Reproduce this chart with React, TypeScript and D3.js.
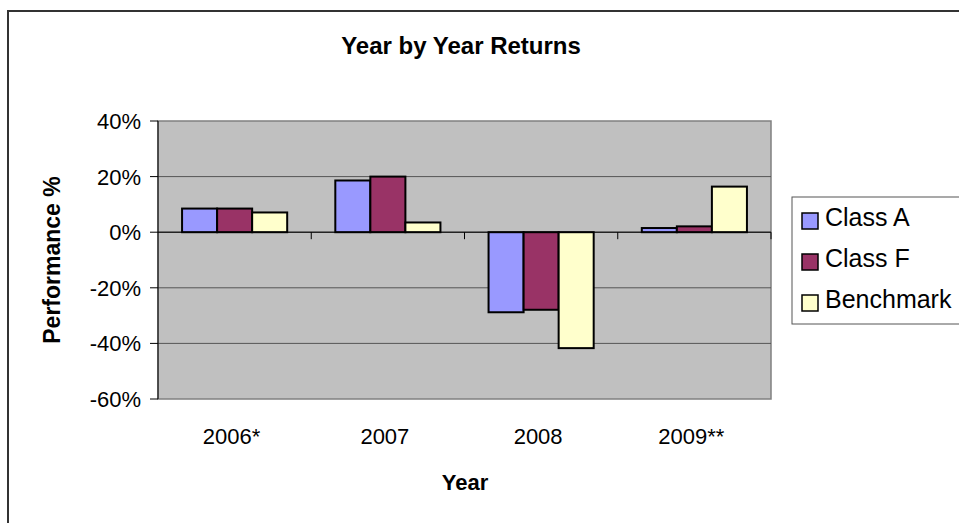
import React from "react";
import * as d3 from "d3";

const categories = ["2006*", "2007", "2008", "2009**"];
const seriesNames = ["Class A", "Class F", "Benchmark"];
const classA = [8.5, 18.6, -28.8, 1.5];
const classF = [8.5, 20.0, -27.9, 2.1];
const benchmark = [7.1, 3.5, -41.7, 16.4];
const yTicks = [40, 20, 0, -20, -40, -60];
const colors = ["#9999FF", "#993366", "#FFFFCC"];

const W = 959;
const H = 523;
const plot = { left: 158, top: 121, right: 771, bottom: 399 };
const FONT = "Arial, 'Liberation Sans', sans-serif";

export default function App() {
  const series = [classA, classF, benchmark];
  const x = d3.scaleBand<string>().domain(categories).range([plot.left, plot.right]).padding(0);
  const bw = x.bandwidth();
  const groupW = bw * 0.686;
  const inner = d3
    .scaleBand<string>()
    .domain(seriesNames)
    .range([(bw - groupW) / 2, (bw + groupW) / 2])
    .padding(0);
  const y = d3.scaleLinear().domain([-60, 40]).range([plot.bottom, plot.top]);
  const y0 = y(0);
  const legendY = [0, 41, 82];

  return (
    <svg width={W} height={H} style={{ position: "absolute", left: 0, top: 0, background: "#fff" }}>
      <rect x={8} y={11} width={W + 20} height={H + 20} fill="#fff" stroke="#333" strokeWidth={2} />
      <text x={461} y={54} textAnchor="middle" fontFamily={FONT} fontWeight="bold" fontSize={24} fill="#000">
        Year by Year Returns
      </text>
      <rect
        x={plot.left}
        y={plot.top}
        width={plot.right - plot.left}
        height={plot.bottom - plot.top}
        fill="#C0C0C0"
        stroke="#808080"
        strokeWidth={1.5}
      />
      {yTicks.map((t) => (
        <g key={t}>
          {t !== 40 && t !== -60 && (
            <line x1={plot.left} x2={plot.right} y1={y(t)} y2={y(t)} stroke="#555" strokeWidth={1} />
          )}
          <line x1={plot.left - 8} x2={plot.left} y1={y(t)} y2={y(t)} stroke="#000" strokeWidth={1} />
          <text x={141} y={y(t) + 8} textAnchor="end" fontFamily={FONT} fontSize={22} fill="#000">
            {t}%
          </text>
        </g>
      ))}
      {categories.map((c, i) =>
        series.map((vals, s) => {
          const v = vals[i];
          const x0 = (x(c) as number) + (inner(seriesNames[s]) as number);
          const top = Math.min(y(v), y0);
          const h = Math.abs(y(v) - y0);
          return (
            <rect
              key={c + s}
              x={x0}
              y={top}
              width={inner.bandwidth()}
              height={h}
              fill={colors[s]}
              stroke="#000"
              strokeWidth={2}
            />
          );
        })
      )}
      <line x1={plot.left} x2={plot.right} y1={y0} y2={y0} stroke="#000" strokeWidth={1} />
      {categories.map((c) => (
        <line
          key={"t" + c}
          x1={(x(c) as number) + bw}
          x2={(x(c) as number) + bw}
          y1={y0}
          y2={y0 + 7}
          stroke="#000"
          strokeWidth={1}
        />
      ))}
      <line x1={plot.left} x2={plot.left} y1={plot.top} y2={plot.bottom} stroke="#000" strokeWidth={1} />
      {categories.map((c) => (
        <text
          key={"l" + c}
          x={(x(c) as number) + bw / 2 - 3}
          y={444}
          textAnchor="middle"
          fontFamily={FONT}
          fontSize={22}
          fill="#000"
        >
          {c}
        </text>
      ))}
      <text x={465} y={490} textAnchor="middle" fontFamily={FONT} fontWeight="bold" fontSize={22} fill="#000">
        Year
      </text>
      <text
        transform={`translate(60, ${(plot.top + plot.bottom) / 2}) rotate(-90)`}
        textAnchor="middle"
        fontFamily={FONT}
        fontWeight="bold"
        fontSize={23}
        fill="#000"
      >
        Performance %
      </text>
      <rect x={792} y={197} width={200} height={127} fill="#fff" stroke="#555" strokeWidth={1} />
      {seriesNames.map((n, s) => (
        <g key={n}>
          <rect
            x={802}
            y={213 + legendY[s]}
            width={16}
            height={16}
            fill={colors[s]}
            stroke="#000"
            strokeWidth={1.5}
          />
          <text x={825} y={226 + legendY[s]} fontFamily={FONT} fontSize={25} fill="#000">
            {n}
          </text>
        </g>
      ))}
    </svg>
  );
}
